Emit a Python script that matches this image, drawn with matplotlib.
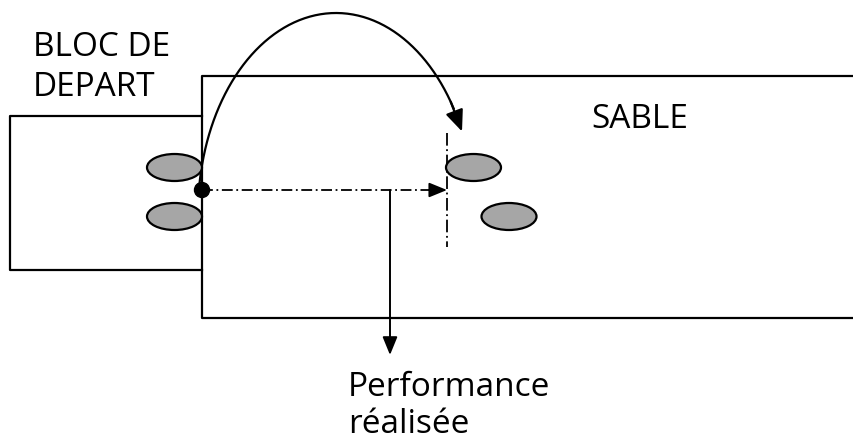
import matplotlib.pyplot as plt
import numpy as np
from matplotlib.patches import Ellipse

# diagram geometry, in pixels of the 854x443 picture (y grows downwards)
bloc_x = [202, 10, 10, 202]
bloc_y = [116, 116, 270, 270]
sable_x = [854, 202, 202, 854]
sable_y = [76, 76, 318, 318]

foot_x = [174.5, 174.5, 473.5, 509]
foot_y = [167.5, 216.5, 167.5, 216.5]

start = (202, 190)
land_x = 447
perf_x = 390
perf_tip = 355

# jump arc (ellipse piece)
arc_cx, arc_cy, arc_a, arc_b = 336, 213, 138, 200

# one entry per text line, baseline positions
lines = ['BLOC DE', 'DEPART', 'SABLE', 'Performance', 'réalisée']
line_x = [33, 33, 591, 348, 348]
line_y = [56, 96, 128, 396, 433]

plt.rcParams['font.family'] = ['Open Sans', 'DejaVu Sans']

fig = plt.figure(figsize=(8.54, 4.43), dpi=100)
ax = fig.add_axes([0, 0, 1, 1])
ax.set_xlim(0, 854)
ax.set_ylim(443, 0)
ax.axis('off')

lw = 1.6
ax.plot(bloc_x, bloc_y, color='black', lw=lw)
ax.plot(sable_x, sable_y, color='black', lw=lw)

for x, y in zip(foot_x, foot_y):
    ax.add_patch(Ellipse((x, y), 55, 27, facecolor='#a6a6a6',
                         edgecolor='black', lw=lw, zorder=3))

head = '-|>,head_length=1.1,head_width=0.45'

# dash-dot distance line with arrow
ax.plot([start[0], land_x - 14], [start[1], start[1]], color='black', lw=1.3,
        ls=(0, (6, 2, 1, 2)))
ax.annotate('', xy=(land_x, start[1]), xytext=(land_x - 18, start[1]),
            arrowprops=dict(arrowstyle=head, color='black', lw=1.3,
                            shrinkA=0, shrinkB=0))
ax.plot([land_x, land_x], [133, 247], color='black', lw=1.3,
        ls=(0, (7, 2, 1, 2)))

# performance arrow
ax.annotate('', xy=(perf_x, perf_tip), xytext=(perf_x, start[1]),
            arrowprops=dict(arrowstyle=head, color='black', lw=1.4,
                            shrinkA=0, shrinkB=0))

# jump arc
t = np.linspace(np.pi + 0.13, 2 * np.pi - 0.42, 200)
px = arc_cx + arc_a * np.cos(t)
py = arc_cy + arc_b * np.sin(t)
ax.plot(px[:-10], py[:-10], color='black', lw=lw)
ax.annotate('', xy=(px[-1], py[-1]), xytext=(px[-14], py[-14]),
            arrowprops=dict(arrowstyle='-|>,head_length=1.3,head_width=0.55',
                            color='black', lw=lw, shrinkA=0, shrinkB=0))

ax.add_patch(plt.Circle(start, 7.5, color='black', zorder=4))

for s, x, y in zip(lines, line_x, line_y):
    ax.text(x, y, s, fontsize=24, va='baseline', ha='left')

fig.savefig('out.png', dpi=100)
